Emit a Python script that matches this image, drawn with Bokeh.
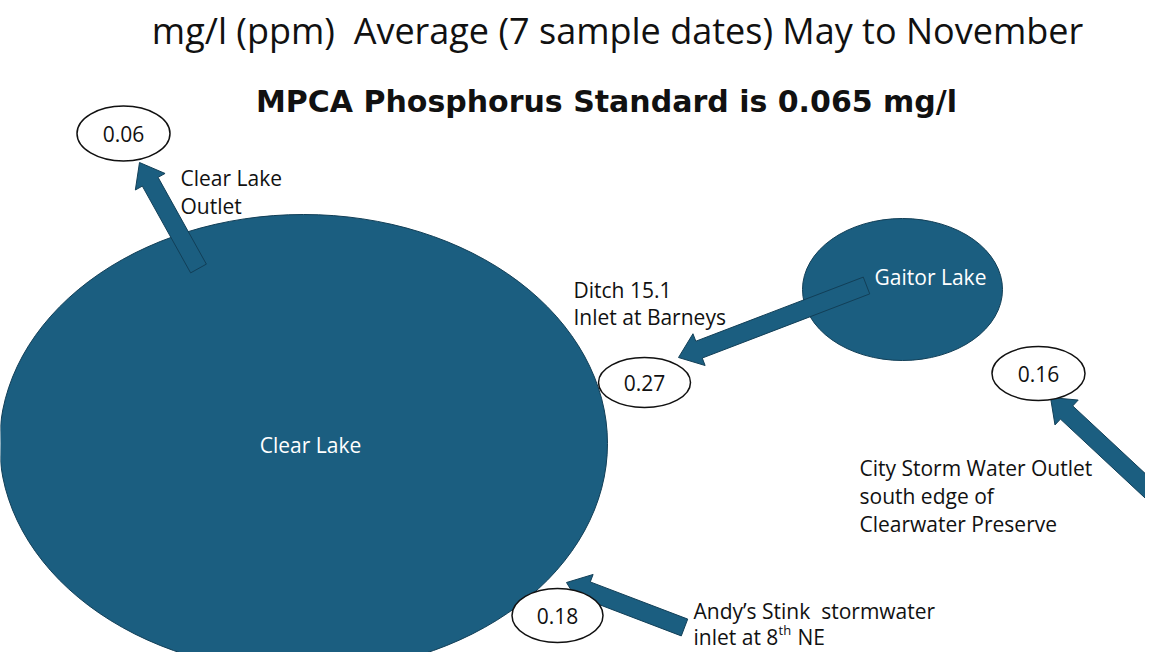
import math
from bokeh.plotting import figure
from bokeh.models import Range1d
from bokeh.core.properties import value
from bokeh.embed import file_html
from bokeh.resources import INLINE

# ---------------- data ----------------
title_text = "mg/l (ppm)\u00a0 Average (7 sample dates) May to November"
subtitle_text = "MPCA Phosphorus Standard is 0.065 mg/l"
lake_names = ["Clear Lake", "Gaitor Lake"]
site_labels = [
    ["Clear Lake", "Outlet"],
    ["Ditch 15.1", "Inlet at Barneys"],
    ["City Storm Water Outlet", "south edge of", "Clearwater Preserve"],
    ["Andy\u2019s Stink\u00a0 stormwater", "inlet at 8"],
]
phosphorus_mg_l = [0.06, 0.27, 0.16, 0.18]

# ---------------- layout (screen pixel positions) ----------------
W, H = 1145, 652
def Y(py):
    return H - py

lake_cx = [303, 902]
lake_cy = [443, 289]
lake_w = [608, 200]
lake_h = [458, 142]
lake_text_x = [310, 930]
lake_text_y = [444, 276]

oval_cx = [123, 644, 1038, 557]
oval_cy = [133, 382, 373, 615]
oval_w = [93, 92, 93, 91]
oval_h = [55, 50, 54, 54]

# arrows: tail -> tip
arrow_tail = [(198, 268), (866, 285), (1154, 494), (684, 627)]
arrow_tip = [(139, 162), (678, 357), (1050, 397), (566, 582)]

label_x = [180, 573, 859, 693]
label_y0 = [177, 289, 467, 610]
line_gap = [28, 27, 28, 26]

BLUE = "#1b5e80"
EDGE = "#123f57"
FONT = "Open Sans"
BODY = "21px"

p = figure(width=W, height=H, x_range=Range1d(0, W), y_range=Range1d(0, H),
           output_backend="svg", toolbar_location=None, min_border=0)
p.axis.visible = False
p.grid.visible = False
p.outline_line_color = None
p.background_fill_color = "white"

# lakes
p.ellipse(x=lake_cx, y=[Y(v) for v in lake_cy], width=lake_w, height=lake_h,
          fill_color=BLUE, line_color=EDGE, line_width=1)
p.text(x=lake_text_x, y=[Y(v) for v in lake_text_y], text=lake_names,
       text_color="white", text_font=value(FONT), text_font_size=BODY,
       text_align="center", text_baseline="middle")

# arrows
def arrow_poly(t, h, w=18, hw=34, hl=22):
    dx, dy = h[0] - t[0], h[1] - t[1]
    L = math.hypot(dx, dy)
    ux, uy = dx / L, dy / L
    nx, ny = -uy, ux
    bx, by = h[0] - ux * hl, h[1] - uy * hl
    pts = [
        (t[0] + nx * w / 2, t[1] + ny * w / 2),
        (bx + nx * w / 2, by + ny * w / 2),
        (bx + nx * hw / 2, by + ny * hw / 2),
        h,
        (bx - nx * hw / 2, by - ny * hw / 2),
        (bx - nx * w / 2, by - ny * w / 2),
        (t[0] - nx * w / 2, t[1] - ny * w / 2),
    ]
    return [q[0] for q in pts], [Y(q[1]) for q in pts]

xs, ys = [], []
for t, h in zip(arrow_tail, arrow_tip):
    ax, ay = arrow_poly(t, h)
    xs.append(ax)
    ys.append(ay)
p.patches(xs, ys, fill_color=BLUE, line_color=EDGE, line_width=1)

# value ovals
p.ellipse(x=oval_cx, y=[Y(v) for v in oval_cy], width=oval_w, height=oval_h,
          fill_color="white", line_color="#111111", line_width=1.5)
p.text(x=oval_cx, y=[Y(v) for v in oval_cy], text=[f"{v:.2f}" for v in phosphorus_mg_l],
       text_color="#111111", text_font=value(FONT), text_font_size=BODY,
       text_align="center", text_baseline="middle")

# site labels
lx, ly, lt = [], [], []
for x0, y0, gap, lines in zip(label_x, label_y0, line_gap, site_labels):
    for i, s in enumerate(lines):
        lx.append(x0)
        ly.append(Y(y0 + i * gap))
        lt.append(s)
p.text(x=lx, y=ly, text=lt, text_color="#111111", text_font=value(FONT),
       text_font_size=BODY, text_align="left", text_baseline="middle")
# superscript and rest of Andy's label
p.text(x=[778], y=[Y(629)], text=["th"], text_color="#111111", text_font=value(FONT),
       text_font_size="13px", text_align="left", text_baseline="middle")
p.text(x=[797], y=[Y(636)], text=["NE"], text_color="#111111", text_font=value(FONT),
       text_font_size=BODY, text_align="left", text_baseline="middle")

# titles
p.text(x=[617], y=[Y(30)], text=[title_text], text_color="#111111",
       text_font=value(FONT), text_font_size="36px",
       text_align="center", text_baseline="middle")
p.text(x=[606], y=[Y(101)], text=[subtitle_text], text_color="#111111",
       text_font=value("DejaVu Sans"), text_font_size="30px", text_font_style="bold",
       text_align="center", text_baseline="middle")

open("out.html", "w").write(file_html(p, INLINE))
